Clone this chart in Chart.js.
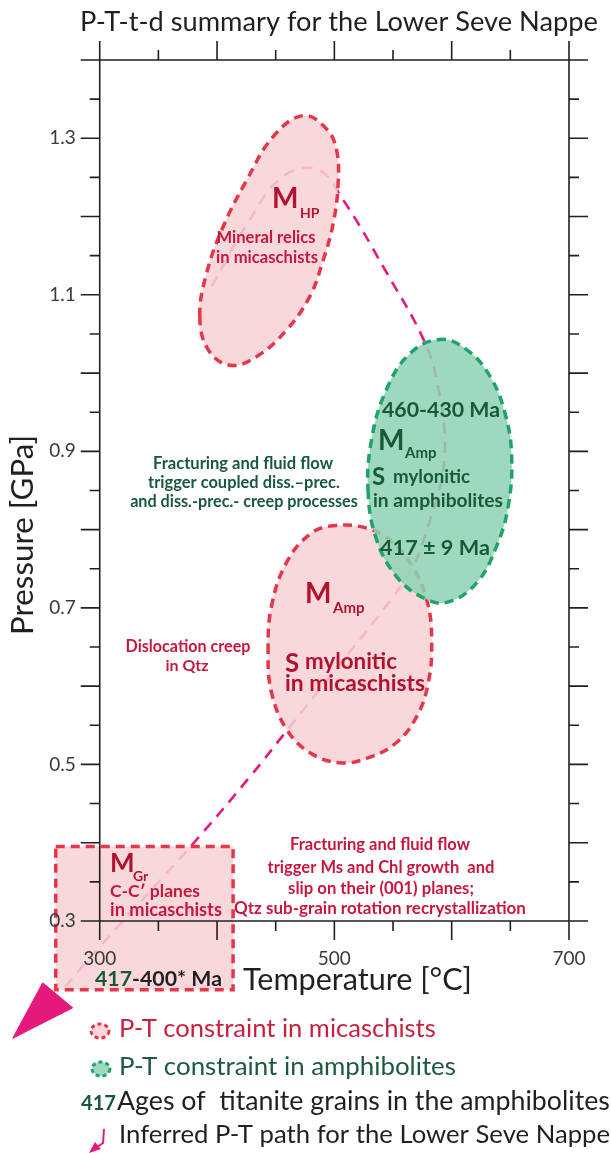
<!DOCTYPE html>
<html>
<head>
<meta charset="utf-8">
<title>P-T-t-d summary for the Lower Seve Nappe</title>
<script src="https://cdn.jsdelivr.net/npm/chart.js@4.4.1/dist/chart.umd.min.js"></script>
<style>
    html, body { margin: 0; padding: 0; background: #fff; }
    canvas { display: block; }
</style>
</head>
<body>
<canvas id="ptChart" width="611" height="1153"></canvas>
<script>
// Axis ticks (temperature in °C, pressure in GPa)
const tempTicks = [300, 350, 400, 450, 500, 550, 600, 650, 700];
const tempLabels = [300, 500, 700];
const pressTicks = [0.3, 0.35, 0.4, 0.45, 0.5, 0.55, 0.6, 0.65, 0.7, 0.75, 0.8, 0.85, 0.9, 0.95, 1.0, 1.05, 1.1, 1.15, 1.2, 1.25, 1.3, 1.35, 1.4];
const pressLabels = [0.3, 0.5, 0.7, 0.9, 1.1, 1.3];

// Outlines, [T, P]
const mhpOutline = [
    [385.3, 1.072], [391.0, 1.127], [405.2, 1.187], [425.1, 1.246], [447.8, 1.302], [473.4, 1.329],
    [493.3, 1.312], [501.9, 1.285], [503.2, 1.242], [499.0, 1.191], [490.4, 1.144], [479.1, 1.098],
    [459.2, 1.055], [433.6, 1.021], [410.9, 1.010], [392.4, 1.030]
];
const amphOutline = [
    [528.8, 0.847], [531.7, 0.915], [544.4, 0.979], [564.4, 1.025], [590.0, 1.043], [612.7, 1.030],
    [632.6, 0.996], [645.4, 0.949], [651.1, 0.894], [648.2, 0.830], [638.3, 0.779], [621.3, 0.732],
    [595.7, 0.707], [575.7, 0.713], [553.0, 0.740], [536.0, 0.787]
];
const micaAmpOutline = [
    [443.5, 0.643], [446.4, 0.702], [459.2, 0.758], [479.1, 0.794], [499.0, 0.805], [527.4, 0.802],
    [548.0, 0.786], [567.0, 0.752], [579.5, 0.706], [583.0, 0.655], [580.0, 0.604], [570.5, 0.562],
    [553.0, 0.528], [528.0, 0.508], [504.7, 0.502], [479.1, 0.515], [459.2, 0.545], [446.4, 0.592]
];
const grBox = [[262.5, 0.395], [413.7, 0.395], [413.7, 0.212], [262.5, 0.212]];

// Inferred P-T path and its arrow head
const ptPath = [
    [395.5, 1.111], [425.4, 1.190], [456.1, 1.251], [485.9, 1.260], [507.2, 1.222], [543.1, 1.132],
    [577.2, 1.039], [588.3, 0.983], [594.2, 0.911], [590.0, 0.855], [579.7, 0.804], [568.7, 0.758],
    [549.9, 0.714], [498.7, 0.617], [462.0, 0.548], [427.9, 0.484], [378.5, 0.397], [300.0, 0.267],
    [265.9, 0.208]
];
const pathArrow = [[225.8, 0.150], [251.4, 0.221], [277.0, 0.189]];

// Colours
const RED = '#e73549';
const RED_FILL = 'rgba(248, 210, 214, 0.86)';
const GREEN = '#1fa36b';
const GREEN_FILL = 'rgba(142, 211, 180, 0.86)';
const PATH = '#e5197b';
const RED_TEXT = '#c8173f';
const RED_M = '#b3122f';
const GREEN_TEXT = '#17593a';
const DARK = '#231f20';
const FONT = 'Lato, "Open Sans", sans-serif';

const toPts = arr => arr.map(([t, p]) => ({ x: t, y: p }));

// Labels inside and around the plot (canvas pixels)
const notes = [
    { t: 'M', x: 272, y: 208, size: 28, bold: true, color: RED_M },
    { t: 'HP', x: 300, y: 218, size: 14, bold: true, color: RED_M },
    { t: 'Mineral relics', x: 266, y: 243, w: 99, bold: true, color: RED_TEXT, align: 'center' },
    { t: 'in micaschists', x: 267, y: 263, w: 102, bold: true, color: RED_TEXT, align: 'center' },

    { t: '460-430 Ma', x: 382, y: 417, w: 118, bold: true, color: GREEN_TEXT },
    { t: 'M', x: 378, y: 450, size: 28, bold: true, color: GREEN_TEXT },
    { t: 'Amp', x: 405, y: 458, size: 15, bold: true, color: GREEN_TEXT },
    { t: 'S', x: 372, y: 485, size: 24, bold: true, color: GREEN_TEXT },
    { t: 'mylonitic', x: 393, y: 483, w: 77, bold: true, color: GREEN_TEXT },
    { t: 'in amphibolites', x: 373, y: 507, w: 130, bold: true, color: GREEN_TEXT },
    { t: '417 \u00b1 9 Ma', x: 380, y: 555, w: 110, bold: true, color: GREEN_TEXT },

    { t: 'Fracturing and fluid flow', x: 243, y: 469, w: 180, bold: true, color: GREEN_TEXT, align: 'center' },
    { t: 'trigger coupled diss.\u2013prec.', x: 244, y: 488, w: 192, bold: true, color: GREEN_TEXT, align: 'center' },
    { t: 'and diss.-prec.- creep processes', x: 244, y: 507, w: 228, bold: true, color: GREEN_TEXT, align: 'center' },

    { t: 'M', x: 305, y: 603, size: 28, bold: true, color: RED_M },
    { t: 'Amp', x: 333, y: 613, size: 15, bold: true, color: RED_M },
    { t: 'S', x: 285, y: 672, size: 26, bold: true, color: RED_M },
    { t: 'mylonitic', x: 305, y: 669, w: 92, bold: true, color: RED_M },
    { t: 'in micaschists', x: 285, y: 691, w: 140, bold: true, color: RED_M },
    { t: 'Dislocation creep', x: 188, y: 652, w: 125, bold: true, color: RED_TEXT, align: 'center' },
    { t: 'in Qtz', x: 187, y: 671, w: 43, bold: true, color: RED_TEXT, align: 'center' },

    { t: 'M', x: 110, y: 872, size: 26, bold: true, color: RED_M },
    { t: 'Gr', x: 133, y: 881, size: 14, bold: true, color: RED_M },
    { t: 'C-C\u2032 planes', x: 110, y: 897, w: 90, bold: true, color: RED_TEXT },
    { t: 'in micaschists', x: 110, y: 916, w: 112, bold: true, color: RED_TEXT },
    { runs: [['417', GREEN_TEXT], ['-400* Ma', DARK]], x: 95, y: 986, w: 127, bold: true },

    { t: 'Fracturing and fluid flow', x: 380, y: 850, w: 180, bold: true, color: RED_TEXT, align: 'center' },
    { t: 'trigger Ms and Chl growth  and', x: 381, y: 873, w: 227, bold: true, color: RED_TEXT, align: 'center' },
    { t: 'slip on their (001) planes;', x: 381, y: 894, w: 186, bold: true, color: RED_TEXT, align: 'center' },
    { t: 'Qtz sub-grain rotation recrystallization', x: 380, y: 914, w: 292, bold: true, color: RED_TEXT, align: 'center' },

    { t: 'P-T-t-d summary for the Lower Seve Nappe', x: 80, y: 31, w: 518, color: DARK },
    { t: 'Temperature [\u00b0C]', x: 243, y: 990, w: 229, color: DARK },

    { t: 'P-T constraint in micaschists', x: 119, y: 1037, w: 317, color: '#c8203f' },
    { t: 'P-T constraint in amphibolites', x: 119, y: 1075, w: 337, color: '#1d5a3c' },
    { t: '417', x: 81, y: 1110, w: 35, bold: true, color: GREEN_TEXT },
    { t: 'Ages of  titanite grains in the amphibolites', x: 117, y: 1110, w: 493, color: DARK },
    { t: 'Inferred P-T path for the Lower Seve Nappe', x: 119, y: 1143, w: 491, color: DARK }
];

// Draw one label, scaling the font to the width seen in the figure
function drawNote(ctx, n) {
    const weight = n.bold ? '700' : '400';
    const runs = n.runs || [[n.t, n.color]];
    let size = n.size || 16;
    ctx.font = `${weight} ${size}px ${FONT}`;
    if (n.w) {
        const full = ctx.measureText(runs.map(r => r[0]).join('')).width;
        size = size * n.w / full;
        ctx.font = `${weight} ${size.toFixed(2)}px ${FONT}`;
    }
    ctx.textBaseline = 'alphabetic';
    let x = n.x;
    if (runs.length === 1) {
        ctx.textAlign = n.align || 'left';
        ctx.fillStyle = runs[0][1];
        ctx.fillText(runs[0][0], x, n.y);
        return;
    }
    ctx.textAlign = 'left';
    runs.forEach(([text, color]) => {
        ctx.fillStyle = color;
        ctx.fillText(text, x, n.y);
        x += ctx.measureText(text).width;
    });
}

// Make outline datasets closed, smooth loops
const closeOutlines = {
    id: 'closeOutlines',
    afterDatasetUpdate(chart, args) {
        const ds = chart.data.datasets[args.index];
        const line = args.meta.dataset;
        if (ds.closedShape && line) {
            line._loop = true;
            line._fullLoop = true;
            line._segments = undefined;
            line._pointsUpdated = false;
        }
    }
};

// Framed axes with outward ticks on all four sides, labels and legend
const frameAxes = {
    id: 'frameAxes',
    afterDatasetsDraw(chart) {
        const { ctx, scales: { x, y } } = chart;
        const left = x.getPixelForValue(300);
        const right = x.getPixelForValue(700);
        const top = y.getPixelForValue(1.4);
        const bottom = y.getPixelForValue(0.3);
        const ext = 19, longTick = 19, shortTick = 10;

        ctx.save();
        ctx.strokeStyle = DARK;
        ctx.lineWidth = 1.6;
        ctx.beginPath();
        ctx.moveTo(left - ext, top); ctx.lineTo(right + ext, top);
        ctx.moveTo(left - ext, bottom); ctx.lineTo(right + ext, bottom);
        ctx.moveTo(left, top - ext); ctx.lineTo(left, bottom + ext);
        ctx.moveTo(right, top - ext); ctx.lineTo(right, bottom + ext);

        tempTicks.slice(1, -1).forEach(t => {
            const px = x.getPixelForValue(t);
            const len = t % 100 === 0 ? longTick : shortTick;
            ctx.moveTo(px, top); ctx.lineTo(px, top - len);
            ctx.moveTo(px, bottom); ctx.lineTo(px, bottom + len);
        });
        pressTicks.slice(1, -1).forEach(p => {
            const py = y.getPixelForValue(p);
            const len = Math.round(p * 100) % 10 === 0 ? longTick : shortTick;
            ctx.moveTo(left, py); ctx.lineTo(left - len, py);
            ctx.moveTo(right, py); ctx.lineTo(right + len, py);
        });
        ctx.stroke();

        ctx.fillStyle = '#3a3a3a';
        ctx.font = `400 19px ${FONT}`;
        ctx.textAlign = 'right';
        ctx.textBaseline = 'middle';
        pressLabels.forEach(p => ctx.fillText(p.toFixed(1), left - 24, y.getPixelForValue(p)));
        ctx.textAlign = 'center';
        ctx.textBaseline = 'alphabetic';
        tempLabels.forEach(t => ctx.fillText(String(t), x.getPixelForValue(t), bottom + 44));
        ctx.restore();
    },
    afterDraw(chart) {
        const { ctx } = chart;
        ctx.save();
        notes.forEach(n => drawNote(ctx, n));

        // rotated pressure title
        ctx.translate(33, 535);
        ctx.rotate(-Math.PI / 2);
        drawNote(ctx, { t: 'Pressure [GPa]', x: 0, y: 0, w: 200, color: DARK, align: 'center' });
        ctx.restore();

        // legend symbols
        ctx.save();
        ctx.lineWidth = 3;
        ctx.setLineDash([4, 3]);
        ctx.beginPath();
        ctx.ellipse(100, 1031, 9, 7, 0, 0, Math.PI * 2);
        ctx.fillStyle = RED_FILL; ctx.fill();
        ctx.strokeStyle = RED; ctx.stroke();
        ctx.beginPath();
        ctx.ellipse(101, 1069, 9, 7, 0, 0, Math.PI * 2);
        ctx.fillStyle = GREEN_FILL; ctx.fill();
        ctx.strokeStyle = GREEN; ctx.stroke();
        ctx.setLineDash([]);
        ctx.strokeStyle = PATH;
        ctx.lineWidth = 2;
        ctx.beginPath();
        ctx.moveTo(104, 1129); ctx.lineTo(103, 1143); ctx.lineTo(97, 1147);
        ctx.stroke();
        ctx.fillStyle = PATH;
        ctx.beginPath();
        ctx.moveTo(89, 1153); ctx.lineTo(95, 1142); ctx.lineTo(101, 1149);
        ctx.closePath(); ctx.fill();
        ctx.restore();
    }
};

const shapeStyle = (border, fill) => ({
    showLine: true,
    closedShape: true,
    fill: 'shape',
    borderColor: border,
    backgroundColor: fill,
    borderWidth: 3.5,
    borderDash: [9, 6],
    borderJoinStyle: 'round',
    pointRadius: 0,
    tension: 0.4
});

new Chart(document.getElementById('ptChart'), {
    type: 'scatter',
    data: {
        datasets: [
            { label: 'P-T path arrow', data: toPts(pathArrow), showLine: true, closedShape: true, fill: 'shape',
              borderColor: PATH, backgroundColor: PATH, borderWidth: 1, pointRadius: 0, tension: 0, order: 1 },
            { label: 'M Gr', data: toPts(grBox), ...shapeStyle(RED, RED_FILL), tension: 0, borderJoinStyle: 'miter', order: 6 },
            { label: 'M HP', data: toPts(mhpOutline), ...shapeStyle(RED, RED_FILL), order: 6 },
            { label: 'M Amp amphibolites', data: toPts(amphOutline), ...shapeStyle(GREEN, GREEN_FILL), order: 7 },
            { label: 'M Amp micaschists', data: toPts(micaAmpOutline), ...shapeStyle(RED, RED_FILL), order: 8 },
            { label: 'Inferred P-T path', data: toPts(ptPath), showLine: true, fill: false,
              borderColor: PATH, borderWidth: 2.6, borderDash: [11, 8], pointRadius: 0, tension: 0.4, order: 10 }
        ]
    },
    options: {
        responsive: false,
        animation: false,
        events: [],
        layout: { padding: { left: 0, right: 42, top: 60, bottom: 75.5 } },
        plugins: {
            legend: { display: false },
            title: { display: false },
            tooltip: { enabled: false }
        },
        scales: {
            x: { type: 'linear', min: 215, max: 700, display: false },
            y: { type: 'linear', min: 0.1, max: 1.4, display: false }
        }
    },
    plugins: [closeOutlines, frameAxes]
});
</script>
</body>
</html>
